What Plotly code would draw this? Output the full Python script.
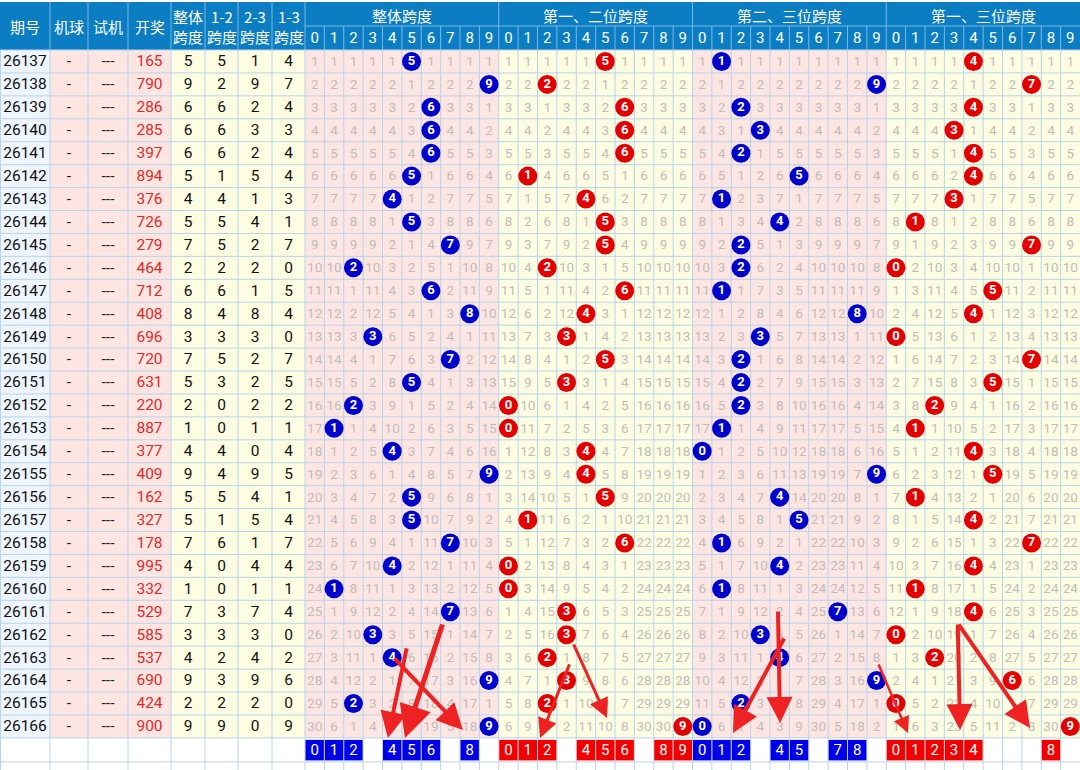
import plotly.graph_objects as go

# ---------------- data ----------------
periods = ["26137", "26138", "26139", "26140", "26141", "26142", "26143", "26144", "26145", "26146",
           "26147", "26148", "26149", "26150", "26151", "26152", "26153", "26154", "26155", "26156",
           "26157", "26158", "26159", "26160", "26161", "26162", "26163", "26164", "26165", "26166"]
machine_ball = ["-"] * 30
trial = ["---"] * 30
draws = ["165", "790", "286", "285", "397", "894", "376", "726", "279", "464",
         "712", "408", "696", "720", "631", "220", "887", "377", "409", "162",
         "327", "178", "995", "332", "529", "585", "537", "690", "424", "900"]
span_all = [5, 9, 6, 6, 6, 5, 4, 5, 7, 2, 6, 8, 3, 7, 5, 2, 1, 4, 9, 5, 5, 7, 4, 1, 7, 3, 4, 9, 2, 9]
span_12 = [5, 2, 6, 6, 6, 1, 4, 5, 5, 2, 6, 4, 3, 5, 3, 0, 0, 4, 4, 5, 1, 6, 0, 0, 3, 3, 2, 3, 2, 9]
span_23 = [1, 9, 2, 3, 2, 5, 1, 4, 2, 2, 1, 8, 3, 2, 2, 2, 1, 0, 9, 4, 5, 1, 4, 1, 7, 3, 4, 9, 2, 0]
span_13 = [4, 7, 4, 3, 4, 4, 3, 1, 7, 0, 5, 4, 0, 7, 5, 2, 1, 4, 5, 1, 4, 7, 4, 1, 4, 0, 2, 6, 0, 9]
group_titles = ["整体跨度", "第一、二位跨度", "第二、三位跨度", "第一、三位跨度"]
left_headers = ["期号", "机球", "试机", "开奖", "整体<br>跨度", "1-2<br>跨度", "2-3<br>跨度", "1-3<br>跨度"]
digit_labels = ["0", "1", "2", "3", "4", "5", "6", "7", "8", "9"]
picks_all = [0, 1, 2, 4, 5, 6, 8]
picks_12 = [0, 1, 2, 4, 5, 6, 8, 9]
picks_23 = [0, 1, 2, 4, 5, 7, 8]
picks_13 = [0, 1, 2, 3, 4, 8]

# hand-drawn arrows: (tail col, tail row, head col, head row, width) in grid units
arrows = [
    (5.26, 26.03, 4.28, 30.0, 4),
    (7.12, 24.99, 5.16, 30.0, 5),
    (4.54, 26.47, 8.15, 29.66, 4),
    (13.68, 26.73, 12.13, 30.0, 3),
    (13.83, 25.86, 15.59, 29.13, 3),
    (24.41, 24.42, 24.52, 29.35, 4),
    (24.77, 25.60, 22.09, 29.79, 4),
    (29.57, 26.73, 31.12, 29.79, 2.5),
    (33.69, 24.99, 33.81, 29.66, 4),
    (33.69, 24.99, 37.42, 29.57, 4),
]

# ---------------- layout constants (style) ----------------
W, H = 1080, 770
left_widths = [50, 38, 40, 43, 34, 33, 34, 33]
left_edges = [0]
for w in left_widths:
    left_edges.append(left_edges[-1] + w)
GX0 = left_edges[-1]
CW = (W - GX0) / 40.0
HEAD_TOP, HEAD_MID, ROW0 = 2, 26, 50
RH = 22.93
NR = len(periods)
BOT0 = ROW0 + NR * RH
BOT1 = BOT0 + 24

HEAD_BG = "#0b7dc3"
HEAD_LINE = "#7db8e3"
GRID = "#b7d4ee"
PINK = "#fde5e2"
YELLOW = "#fdfde1"
LBLUE = "#eef5fd"
GRAY = "#bdbdbd"
BLUE = "#0000cc"
RED = "#e30000"
NUMFONT = "Roboto, Noto Sans CJK SC"
CJK = "Noto Sans CJK SC"


def gx(c):
    return GX0 + c * CW


def ry(r):
    return ROW0 + r * RH


shapes = []
annotations = []


def rect(x0, y0, x1, y1, fill, line=None, layer="below"):
    d = dict(type="rect", x0=x0, y0=y0, x1=x1, y1=y1, fillcolor=fill, layer=layer,
             line=dict(width=0) if line is None else dict(color=line, width=1))
    shapes.append(d)


def hline(y, x0, x1, color, w=1):
    shapes.append(dict(type="line", x0=x0, x1=x1, y0=y, y1=y, line=dict(color=color, width=w), layer="below"))


def vline(x, y0, y1, color, w=1):
    shapes.append(dict(type="line", x0=x, x1=x, y0=y0, y1=y1, line=dict(color=color, width=w), layer="below"))


# backgrounds of data area
left_fills = [LBLUE, PINK, PINK, PINK, YELLOW, YELLOW, YELLOW, YELLOW]
for i, f in enumerate(left_fills):
    rect(left_edges[i], ROW0, left_edges[i + 1], BOT0, f)
for g in range(4):
    rect(gx(g * 10), ROW0, gx(g * 10 + 10), BOT0, PINK if g % 2 == 0 else YELLOW)

# header background
rect(0, HEAD_TOP, W, ROW0, HEAD_BG)

# grid lines in data area
for r in range(NR + 2):
    hline(ry(r) if r <= NR else BOT1, 0, W, GRID)
for x in left_edges[1:]:
    vline(x, ROW0, H, GRID)
for c in range(1, 40):
    vline(gx(c), ROW0, H, GRID)
vline(0.5, ROW0, H, GRID)

# header lines
for x in left_edges[1:]:
    vline(x, HEAD_TOP, ROW0, HEAD_LINE)
for c in range(1, 40):
    vline(gx(c), HEAD_MID if c % 10 else HEAD_TOP, ROW0, HEAD_LINE)
hline(HEAD_MID, GX0, W, HEAD_LINE)

# header texts
for i, t in enumerate(left_headers):
    annotations.append(dict(x=(left_edges[i] + left_edges[i + 1]) / 2, y=(HEAD_TOP + ROW0) / 2, text=t,
                            showarrow=False, font=dict(family=CJK, size=15, color="white"),
                            xref="x", yref="y", align="center"))
for g, t in enumerate(group_titles):
    annotations.append(dict(x=gx(g * 10 + 5), y=(HEAD_TOP + HEAD_MID) / 2 + 1, text=t, showarrow=False,
                            font=dict(family=CJK, size=15, color="white"), xref="x", yref="y"))

hx, hy, ht = [], [], []
for c in range(40):
    hx.append(gx(c + 0.5))
    hy.append((HEAD_MID + ROW0) / 2 + 1)
    ht.append(digit_labels[c % 10])

traces = []
traces.append(go.Scatter(x=hx, y=hy, text=ht, mode="text",
                         textfont=dict(family=NUMFONT, size=15, color="white"), hoverinfo="skip"))

# left columns
left_cols = [periods, machine_ball, trial, draws,
             [str(v) for v in span_all], [str(v) for v in span_12],
             [str(v) for v in span_23], [str(v) for v in span_13]]
left_colors = ["#111111", "#222222", "#222222", "#e02a2a", "#111111", "#111111", "#111111", "#111111"]
for i, col in enumerate(left_cols):
    cx = (left_edges[i] + left_edges[i + 1]) / 2
    traces.append(go.Scatter(x=[cx] * NR, y=[ry(r + 0.5) + 1 for r in range(NR)], text=col, mode="text",
                             textfont=dict(family=NUMFONT, size=15.5, color=left_colors[i]), hoverinfo="skip"))

# omission grid
span_groups = [span_all, span_12, span_23, span_13]
gray_x, gray_y, gray_t = [], [], []
circ = {BLUE: ([], [], []), RED: ([], [], [])}
for g, spans in enumerate(span_groups):
    miss = [0] * 10
    color = BLUE if g % 2 == 0 else RED
    for r, s in enumerate(spans):
        for d in range(10):
            x = gx(g * 10 + d + 0.5)
            y = ry(r + 0.5)
            if d == s:
                miss[d] = 0
                circ[color][0].append(x)
                circ[color][1].append(y)
                circ[color][2].append("<b>%d</b>" % d)
            else:
                miss[d] += 1
                gray_x.append(x)
                gray_y.append(y + 1)
                gray_t.append(str(miss[d]))

traces.append(go.Scatter(x=gray_x, y=gray_y, text=gray_t, mode="text",
                         textfont=dict(family=NUMFONT, size=13.5, color=GRAY), hoverinfo="skip"))
for color, (xs, ys, ts) in circ.items():
    traces.append(go.Scatter(x=xs, y=ys, mode="markers+text", text=ts,
                             marker=dict(size=19, color=color, line=dict(width=0)),
                             textfont=dict(family=NUMFONT, size=13, color="white"),
                             textposition="middle center", hoverinfo="skip"))

# bottom pick boxes (below traces so the digits stay on top)
pick_groups = [picks_all, picks_12, picks_23, picks_13]
bx, by, bt = [], [], []
for g, picks in enumerate(pick_groups):
    fill = "#0000e8" if g % 2 == 0 else "#f20000"
    for d in picks:
        c = g * 10 + d
        rect(gx(c) + 0.5, BOT0 + 2, gx(c + 1) - 0.5, BOT1 - 1.5, fill, layer="below")
        bx.append(gx(c + 0.5))
        by.append((BOT0 + BOT1) / 2 + 1)
        bt.append(str(d))
traces.append(go.Scatter(x=bx, y=by, text=bt, mode="text",
                         textfont=dict(family=NUMFONT, size=15, color="white"), hoverinfo="skip"))

# arrows
for tc, tr, hc, hr, w in arrows:
    annotations.append(dict(x=gx(hc), y=ry(hr), ax=gx(tc), ay=ry(tr), xref="x", yref="y",
                            axref="x", ayref="y", text="", showarrow=True, arrowhead=2,
                            arrowsize=1.3, arrowwidth=w, arrowcolor="#ee2222", standoff=0, startstandoff=0))

fig = go.Figure(traces)
fig.update_layout(
    width=W, height=H, margin=dict(l=0, r=0, t=0, b=0),
    paper_bgcolor="white", plot_bgcolor="white", showlegend=False,
    xaxis=dict(range=[0, W], visible=False, fixedrange=True),
    yaxis=dict(range=[H, 0], visible=False, fixedrange=True),
    shapes=shapes, annotations=annotations,
)
fig.write_html("out.html", config={"displayModeBar": False})
